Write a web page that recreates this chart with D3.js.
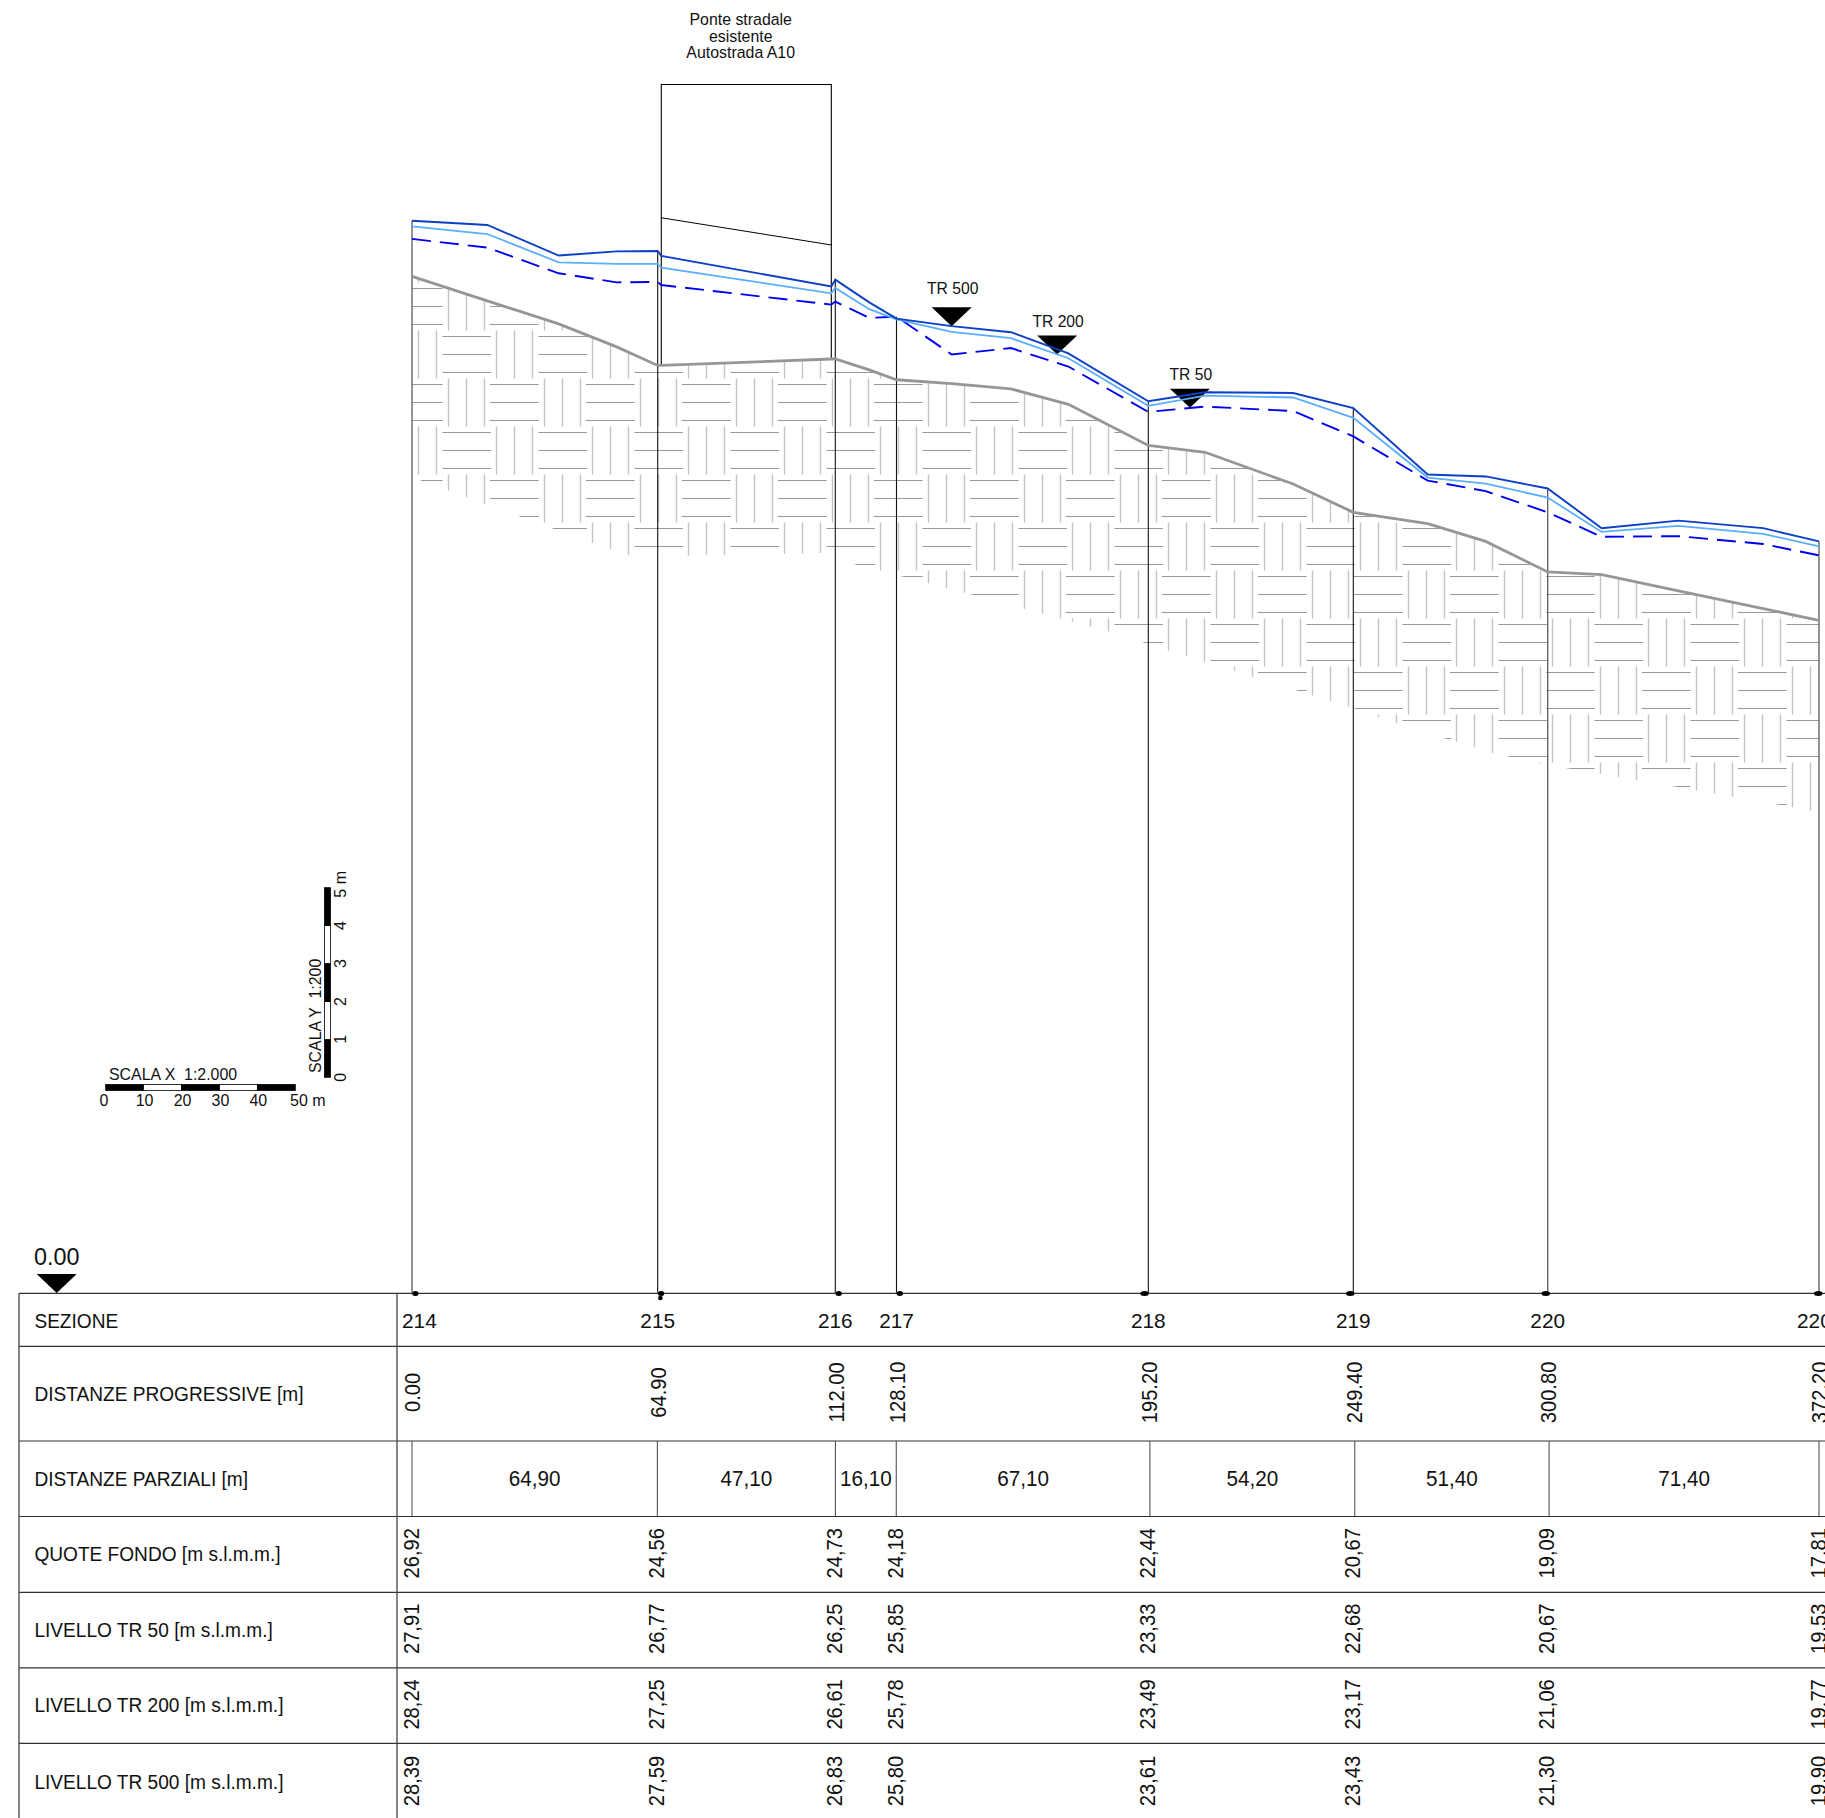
<!DOCTYPE html>
<html>
<head>
<meta charset="utf-8">
<script src="https://cdn.jsdelivr.net/npm/d3@7"></script>
<style>
  html, body { margin: 0; padding: 0; background: #fff; overflow: hidden; }
  svg { display: block; }
  text { font-family: "Liberation Sans", Arial, sans-serif; fill: #111; }
</style>
</head>
<body>
<div id="chart"></div>
<script>
// Table data
var rowLabels = ["SEZIONE", "DISTANZE PROGRESSIVE [m]", "DISTANZE PARZIALI [m]", "QUOTE FONDO [m s.l.m.m.]",
  "LIVELLO TR 50 [m s.l.m.m.]", "LIVELLO TR 200 [m s.l.m.m.]", "LIVELLO TR 500 [m s.l.m.m.]"];
var sections = ["214", "215", "216", "217", "218", "219", "220", "220"];
var progressive = [0, 64.9, 112, 128.1, 195.2, 249.4, 300.8, 372.2];
var partial = [64.9, 47.1, 16.1, 67.1, 54.2, 51.4, 71.4];
var quoteFondo = [26.92, 24.56, 24.73, 24.18, 22.44, 20.67, 19.09, 17.81];
var levelTr50 = [27.91, 26.77, 26.25, 25.85, 23.33, 22.68, 20.67, 19.53];
var levelTr200 = [28.24, 27.25, 26.61, 25.78, 23.49, 23.17, 21.06, 19.77];
var levelTr500 = [28.39, 27.59, 26.83, 25.80, 23.61, 23.43, 21.30, 19.90];

// Profile vertices: chainage [m] and elevation [m s.l.m.m.]
var chain = [0, 19.9, 38.75, 54.07, 64.9, 65.85, 110.94, 112, 120.94, 128.1, 142.8, 158.6, 173.9, 195.2,
  210.2, 233.5, 249.4, 269.07, 284.4, 300.8, 315, 335.2, 357.5, 372.2];
var profileTr500 = [28.39, 28.28, 27.47, 27.58, 27.59, 27.46, 26.65, 26.83, 26.23, 25.80, 25.60, 25.44, 24.88, 23.61,
  23.85, 23.83, 23.43, 21.67, 21.62, 21.30, 20.25, 20.45, 20.25, 19.90];
var profileTr200 = [28.24, 28.04, 27.29, 27.25, 27.25, 27.15, 26.47, 26.61, 26.05, 25.78, 25.45, 25.28, 24.75, 23.49,
  23.76, 23.71, 23.17, 21.59, 21.43, 21.06, 20.15, 20.31, 20.10, 19.77];
var profileTr50 = [27.91, 27.68, 27.00, 26.76, 26.77, 26.69, 26.17, 26.25, 25.82, 25.85, 24.85, 25.02, 24.53, 23.33,
  23.47, 23.35, 22.68, 21.51, 21.23, 20.67, 20.02, 20.04, 19.83, 19.53];
var profileFondo = [26.92, 26.27, 25.66, 25.05, 24.56, 24.56, 24.73, 24.73, 24.44, 24.18, 24.08, 23.94, 23.53, 22.44,
  22.26, 21.42, 20.67, 20.37, 19.90, 19.09, 19.02, 18.59, 18.12, 17.81];

// Lower limit of the hatched bed
var hatchChain = [0, 19.28, 47.73, 57.24, 64.9, 108.2, 112, 117.2, 128.1, 146.35, 162.3, 184.65, 195.2, 200.67,
  249.4, 260.95, 286.4, 300.8, 324.3, 349.65, 372.2];
var hatchBottom = [21.60, 20.89, 19.86, 19.54, 19.51, 19.59, 19.59, 19.29, 19.01, 18.54, 18.11, 17.51, 17.18, 17.00,
  15.49, 15.08, 14.29, 13.98, 13.58, 13.14, 12.73];

// Bridge
var bridgeChain = [65.85, 110.94];
var bridgeTop = 32.0;
var bridgeSoffit = [28.47, 27.75];
var bridgeText = ["Ponte stradale", "esistente", "Autostrada A10"];

// Water level markers
var markerNames = ["TR 500", "TR 200", "TR 50"];
var markerChain = [142.8, 170.9, 206.2];
var markerLevel = [25.60, 24.85, 23.44];

// Section dots on the datum line
var dotChain = [0.9, 65.8, 112.9, 129, 194.2, 248.6, 300.3, 372];

// Scale bars
var scaleXTicks = [0, 10, 20, 30, 40, 50];
var scaleYTicks = [0, 1, 2, 3, 4, 5];

// Dimensions
var width = 1825, height = 1818;
var rowLines = [1293.3, 1346.3, 1441, 1516.5, 1592.3, 1667.8, 1743.4, 1821];
var tableLeft = 19, labelCol = 397;

var svg = d3.select("#chart").append("svg")
  .attr("width", width)
  .attr("height", height);

// X scale follows the drawn sections, table scale follows the printed distances
var x = d3.scaleLinear().domain(progressive).range([412, 657.7, 835.3, 896.5, 1148.3, 1353.3, 1547.7, 1819]);
var xTable = d3.scaleLinear().domain([0, 372.2]).range([412, 1819]);
var y = d3.scaleLinear().domain([0, 35]).range([1292.8, -28.8]);

var line = d3.line()
  .x(function(d) { return x(d[0]); })
  .y(function(d) { return y(d[1]); });

// Hatched bed: basket weave clipped between the bed line and its lower limit
var topEdge = d3.zip(chain, profileFondo);
var bottomEdge = d3.zip(hatchChain, hatchBottom).reverse();
svg.append("defs").append("clipPath")
  .attr("id", "bedClip")
  .append("path")
  .attr("d", line(topEdge.concat(bottomEdge)) + "Z");

var hatch = svg.append("g").attr("clip-path", "url(#bedClip)");
var tileSize = 96;

function weaveH(x0, y0, x1, x2, ys) {
  ys.forEach(function(v) {
    hatch.append("line")
      .attr("x1", x0 + x1).attr("x2", x0 + x2)
      .attr("y1", y0 + v).attr("y2", y0 + v)
      .attr("stroke", "#999").attr("stroke-width", 1);
  });
}
function weaveV(x0, y0, y1, y2, xs) {
  xs.forEach(function(v) {
    hatch.append("line")
      .attr("x1", x0 + v).attr("x2", x0 + v)
      .attr("y1", y0 + y1).attr("y2", y0 + y2)
      .attr("stroke", "#c4c4c4").attr("stroke-width", 1.4);
  });
}
d3.range(442.5 - tileSize, width, tileSize).forEach(function(x0) {
  d3.range(330.5 - tileSize, 830, tileSize).forEach(function(y0) {
    weaveH(x0, y0, 0, 48.5, [6, 24, 42]);
    weaveV(x0, y0, 0, 48, [54, 72, 90]);
    weaveH(x0, y0, 47.6, 96, [54, 72, 90]);
    weaveV(x0, y0, 48, 96, [6, 24, 42]);
  });
});

// Section lines
svg.selectAll(".section")
  .data(progressive)
  .enter().append("line")
  .attr("class", "section")
  .attr("x1", function(d) { return x(d); })
  .attr("x2", function(d) { return x(d); })
  .attr("y1", function(d, i) { return y(d3.max([levelTr50[i], levelTr200[i], levelTr500[i]])); })
  .attr("y2", y(0))
  .attr("stroke", function(d, i) { return (i == 0 || i >= 6) ? "#666" : "#111"; })
  .attr("stroke-width", function(d, i) { return (i == 0 || i >= 6) ? 1.4 : 1.1; });

// Bridge outline
var bridgeBottom = bridgeChain.map(function(c) { return profileFondo[chain.indexOf(c)]; });
svg.append("path")
  .attr("d", line([[bridgeChain[0], bridgeBottom[0]], [bridgeChain[0], bridgeTop], [bridgeChain[1], bridgeTop], [bridgeChain[1], bridgeBottom[1]]]))
  .attr("fill", "none").attr("stroke", "#000").attr("stroke-width", 1.1);
svg.append("path")
  .attr("d", line(d3.zip(bridgeChain, bridgeSoffit)))
  .attr("fill", "none").attr("stroke", "#000").attr("stroke-width", 1);
svg.selectAll(".bridgeText")
  .data(bridgeText)
  .enter().append("text")
  .attr("x", 740.7)
  .attr("y", function(d, i) { return 25 + i * 16.6; })
  .attr("text-anchor", "middle")
  .style("font-size", "15.9px")
  .text(function(d) { return d; });

// Water level markers
markerNames.forEach(function(name, i) {
  var px = x(markerChain[i]), py = y(markerLevel[i]);
  svg.append("path")
    .attr("d", d3.line()([[px - 20, py - 19], [px + 20, py - 19], [px, py]]) + "Z")
    .attr("fill", "#000");
  svg.append("text")
    .attr("x", px + 1)
    .attr("y", py - (i == 0 ? 32 : 27.3))
    .attr("text-anchor", "middle")
    .style("font-size", "15.7px")
    .text(name);
});

// Profiles
svg.append("path").attr("d", line(topEdge))
  .attr("fill", "none").attr("stroke", "#969696").attr("stroke-width", 2.8);
svg.append("path").attr("d", line(d3.zip(chain, profileTr50)))
  .attr("fill", "none").attr("stroke", "#0000ee").attr("stroke-width", 1.9)
  .attr("stroke-dasharray", "19 9");
svg.append("path").attr("d", line(d3.zip(chain, profileTr200)))
  .attr("fill", "none").attr("stroke", "#5aaefc").attr("stroke-width", 1.8);
svg.append("path").attr("d", line(d3.zip(chain, profileTr500)))
  .attr("fill", "none").attr("stroke", "#0b3fc4").attr("stroke-width", 1.9);

// Datum marker
svg.append("path")
  .attr("d", d3.line()([[36.7, 1274], [76.7, 1274], [56.7, 1293]]) + "Z")
  .attr("fill", "#000");
svg.append("text")
  .attr("x", 56.7).attr("y", 1265)
  .attr("text-anchor", "middle")
  .style("font-size", "23.4px")
  .text("0.00");

// Table grid
svg.selectAll(".rowLine")
  .data(rowLines)
  .enter().append("line")
  .attr("class", "rowLine")
  .attr("x1", tableLeft).attr("x2", width)
  .attr("y1", function(d) { return d; }).attr("y2", function(d) { return d; })
  .attr("stroke", "#333").attr("stroke-width", 1.2);
[tableLeft, labelCol].forEach(function(px) {
  svg.append("line")
    .attr("x1", px).attr("x2", px)
    .attr("y1", rowLines[0]).attr("y2", height)
    .attr("stroke", "#444").attr("stroke-width", 1.3);
});
svg.selectAll(".partialLine")
  .data(progressive)
  .enter().append("line")
  .attr("class", "partialLine")
  .attr("x1", function(d) { return xTable(d); })
  .attr("x2", function(d) { return xTable(d); })
  .attr("y1", rowLines[2]).attr("y2", rowLines[3])
  .attr("stroke", "#444").attr("stroke-width", 1);

// Section dots
svg.selectAll(".dot")
  .data(dotChain)
  .enter().append("ellipse")
  .attr("class", "dot")
  .attr("cx", function(d) { return x(d); })
  .attr("cy", y(0) + 0.7)
  .attr("rx", function(d, i) { return i > 3 ? 4.3 : 3.2; })
  .attr("ry", 2.5)
  .attr("fill", "#000");
svg.append("circle")
  .attr("cx", x(dotChain[1]) - 0.7).attr("cy", 1298).attr("r", 2.3).attr("fill", "#000");

// Row labels
function rowMid(i) { return (rowLines[i] + rowLines[i + 1]) / 2; }

svg.selectAll(".rowLabel")
  .data(rowLabels)
  .enter().append("text")
  .attr("class", "rowLabel")
  .attr("transform", function(d, i) { return "translate(34.4," + (rowMid(i) + (i == 0 ? 0.8 : -0.5)) + ") scale(0.91,1)"; })
  .attr("dy", "0.35em")
  .style("font-size", "21px")
  .text(function(d) { return d; });

// Section names
svg.selectAll(".sectionName")
  .data(sections)
  .enter().append("text")
  .attr("class", "sectionName")
  .attr("x", function(d, i) { return i == 0 ? 402 : (i == 7 ? 1797 : x(progressive[i])); })
  .attr("y", rowMid(0) + 1)
  .attr("dy", "0.35em")
  .attr("text-anchor", function(d, i) { return (i == 0 || i == 7) ? "start" : "middle"; })
  .style("font-size", "20.8px")
  .text(function(d) { return d; });

// Rotated values
function comma(v) { return v.toFixed(2).replace(".", ","); }
function rotatedRow(values, row, fmt, shift) {
  svg.selectAll(null)
    .data(values)
    .enter().append("text")
    .attr("transform", function(d, i) {
      return "translate(" + (x(progressive[i]) + shift) + "," + (rowMid(row) - 1.2) + ") rotate(-90) scale(0.915,1)";
    })
    .attr("dy", "0.35em")
    .attr("text-anchor", "middle")
    .style("font-size", "22px")
    .text(fmt);
}
rotatedRow(progressive, 1, function(d) { return d.toFixed(2); }, 0.5);
rotatedRow(quoteFondo, 3, comma, -1);
rotatedRow(levelTr50, 4, comma, -1);
rotatedRow(levelTr200, 5, comma, -1);
rotatedRow(levelTr500, 6, comma, -1);

// Partial distances
svg.selectAll(".partial")
  .data(partial)
  .enter().append("text")
  .attr("class", "partial")
  .attr("transform", function(d, i) {
    return "translate(" + (xTable(progressive[i]) + xTable(progressive[i + 1])) / 2 + "," + (rowMid(2) - 0.8) + ") scale(0.94,1)";
  })
  .attr("dy", "0.35em")
  .attr("text-anchor", "middle")
  .style("font-size", "22px")
  .text(comma);

// Scale X bar
var barX = d3.scaleLinear().domain([0, 50]).range([105.7, 295.3]);
svg.selectAll(".barX")
  .data(scaleXTicks.slice(0, 5))
  .enter().append("rect")
  .attr("class", "barX")
  .attr("x", function(d) { return barX(d); })
  .attr("y", 1084.5)
  .attr("width", barX(10) - barX(0))
  .attr("height", 6)
  .attr("fill", function(d, i) { return i % 2 ? "#fff" : "#000"; })
  .attr("stroke", "#000").attr("stroke-width", 0.8);
svg.selectAll(".barXLabel")
  .data(scaleXTicks)
  .enter().append("text")
  .attr("class", "barXLabel")
  .attr("x", function(d) { return d == 50 ? 290 : barX(d) + (d == 0 ? -1.7 : 1); })
  .attr("y", 1106)
  .attr("text-anchor", function(d) { return d == 50 ? "start" : "middle"; })
  .style("font-size", "16px")
  .text(function(d) { return d == 50 ? "50 m" : d; });
svg.append("text")
  .attr("x", 109).attr("y", 1080)
  .style("font-size", "15.9px")
  .style("white-space", "pre")
  .text("SCALA X  1:2.000");

// Scale Y bar
var barY = d3.scaleLinear().domain([0, 5]).range([1077.3, 887.7]);
svg.selectAll(".barY")
  .data(scaleYTicks.slice(0, 5))
  .enter().append("rect")
  .attr("class", "barY")
  .attr("x", 324.5)
  .attr("y", function(d) { return barY(d + 1); })
  .attr("width", 6)
  .attr("height", barY(0) - barY(1))
  .attr("fill", function(d, i) { return i % 2 ? "#fff" : "#000"; })
  .attr("stroke", "#000").attr("stroke-width", 0.8);
svg.selectAll(".barYLabel")
  .data(scaleYTicks)
  .enter().append("text")
  .attr("class", "barYLabel")
  .attr("transform", function(d) {
    return "translate(345.7," + (d == 5 ? 897.7 : barY(d)) + ") rotate(-90)";
  })
  .attr("text-anchor", function(d) { return d == 5 ? "start" : "middle"; })
  .style("font-size", "16px")
  .text(function(d) { return d == 5 ? "5 m" : d; });
svg.append("text")
  .attr("transform", "translate(320.7,1073) rotate(-90)")
  .style("font-size", "15.9px")
  .style("white-space", "pre")
  .text("SCALA Y  1:200");
</script>
</body>
</html>
